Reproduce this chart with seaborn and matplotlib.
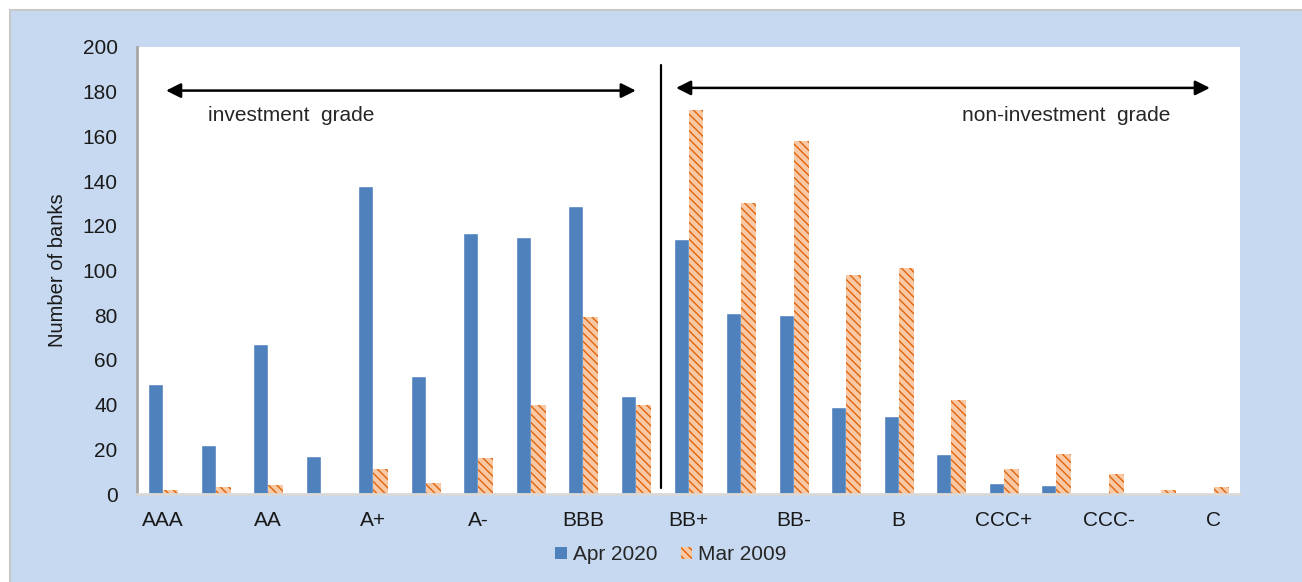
import numpy as np
import pandas as pd
import seaborn as sns
import matplotlib.pyplot as plt
from matplotlib.patches import Rectangle, Patch

ratings = ["AAA", "AA+", "AA", "AA-", "A+", "A", "A-", "BBB+", "BBB", "BBB-",
           "BB+", "BB", "BB-", "B+", "B", "B-", "CCC+", "CCC", "CCC-", "CC", "C"]
apr_2020 = [49, 22, 67, 17, 138, 53, 117, 115, 129, 44,
            114, 81, 80, 39, 35, 18, 5, 4, 0, 0, 0]
mar_2009 = [2, 3, 4, 0, 11, 5, 16, 40, 79, 40,
            172, 130, 158, 98, 101, 42, 11, 18, 9, 2, 3]
series = ["Apr 2020", "Mar 2009"]

bg_blue = "#C6D9F0"
bar_blue = "#4F81BD"
peach = "#F9C9A6"
hatch_orange = "#E0650A"

df = pd.DataFrame({
    "rating": ratings * 2,
    "banks": apr_2020 + mar_2009,
    "period": [series[0]] * len(ratings) + [series[1]] * len(ratings),
})

sns.set_style("white")
plt.rcParams["font.family"] = ["Liberation Sans", "DejaVu Sans"]
plt.rcParams["hatch.linewidth"] = 1.0

fig = plt.figure(figsize=(13.02, 5.82), dpi=100)
fig.patch.set_facecolor("white")
# light blue chart box, border only on top and left
fig.patches.append(Rectangle((10 / 1302, -0.1), 1.1, 0.1 + 572 / 582, transform=fig.transFigure,
                             facecolor=bg_blue, edgecolor="#C8C8C8", linewidth=1.5, zorder=-10))
ax = fig.add_axes([137 / 1302, 88 / 582, 1103 / 1302, 447 / 582])
ax.set_facecolor("white")

sns.barplot(data=df, x="rating", y="banks", hue="period", order=ratings,
            hue_order=series, palette=[bar_blue, peach], width=0.57, gap=0,
            saturation=1, errorbar=None, legend=False, ax=ax)

for p in ax.containers[1]:
    p.set_hatch("\\\\\\\\")
    p.set_edgecolor(hatch_orange)
    p.set_linewidth(0)

ax.set_xlim(-0.5, len(ratings) - 0.5)
ax.set_ylim(0, 200)
ax.set_yticks(np.arange(0, 201, 20))
ax.set_xticks(np.arange(0, len(ratings), 2))
ax.set_xticklabels(ratings[::2])
ax.set_xticks(np.arange(-0.5, len(ratings), 1), minor=True)
ax.tick_params(axis="x", which="major", length=0, pad=12, labelsize=15, labelcolor="#1a1a1a")
ax.tick_params(axis="x", which="minor", length=5, width=1.5, color="#D0D0D0", direction="out")
ax.tick_params(axis="y", length=6, width=1.5, color="#A6A6A6", direction="in",
               pad=14, labelsize=15, labelcolor="#1a1a1a")
ax.set_xlabel("")
ax.set_ylabel("Number of banks", fontsize=14.5, color="#1a1a1a", labelpad=11)

for s in ["top", "right"]:
    ax.spines[s].set_visible(False)
ax.spines["left"].set_color("#A6A6A6")
ax.spines["left"].set_linewidth(2)
ax.spines["bottom"].set_color("#D9D9D9")
ax.spines["bottom"].set_linewidth(2)

# grade split and arrows
ax.plot([9.47, 9.47], [2.7, 192], color="black", lw=1.6)
ax.annotate("", xy=(0.0, 180.5), xytext=(9.05, 180.5),
            arrowprops=dict(arrowstyle="<|-|>", color="black", lw=1.8, mutation_scale=22))
ax.annotate("", xy=(9.71, 181.7), xytext=(19.98, 181.7),
            arrowprops=dict(arrowstyle="<|-|>", color="black", lw=1.8, mutation_scale=22))
ax.text(0.86, 169.5, "investment  grade", fontsize=15, color="#262626", va="center", ha="left")
ax.text(19.18, 169.5, "non-investment  grade", fontsize=15, color="#262626", va="center", ha="right")

handles = [Patch(facecolor=bar_blue, edgecolor=bar_blue, linewidth=0),
           Patch(facecolor=peach, edgecolor=hatch_orange, hatch="\\\\\\\\", linewidth=0)]
fig.legend(handles, series, loc="center", bbox_to_anchor=(671 / 1302, 1 - 555 / 582),
           ncol=2, frameon=False, fontsize=15, handlelength=0.55, handleheight=0.55,
           handletextpad=0.3, columnspacing=1.1)

fig.savefig("out.png", dpi=100, facecolor=fig.get_facecolor())
